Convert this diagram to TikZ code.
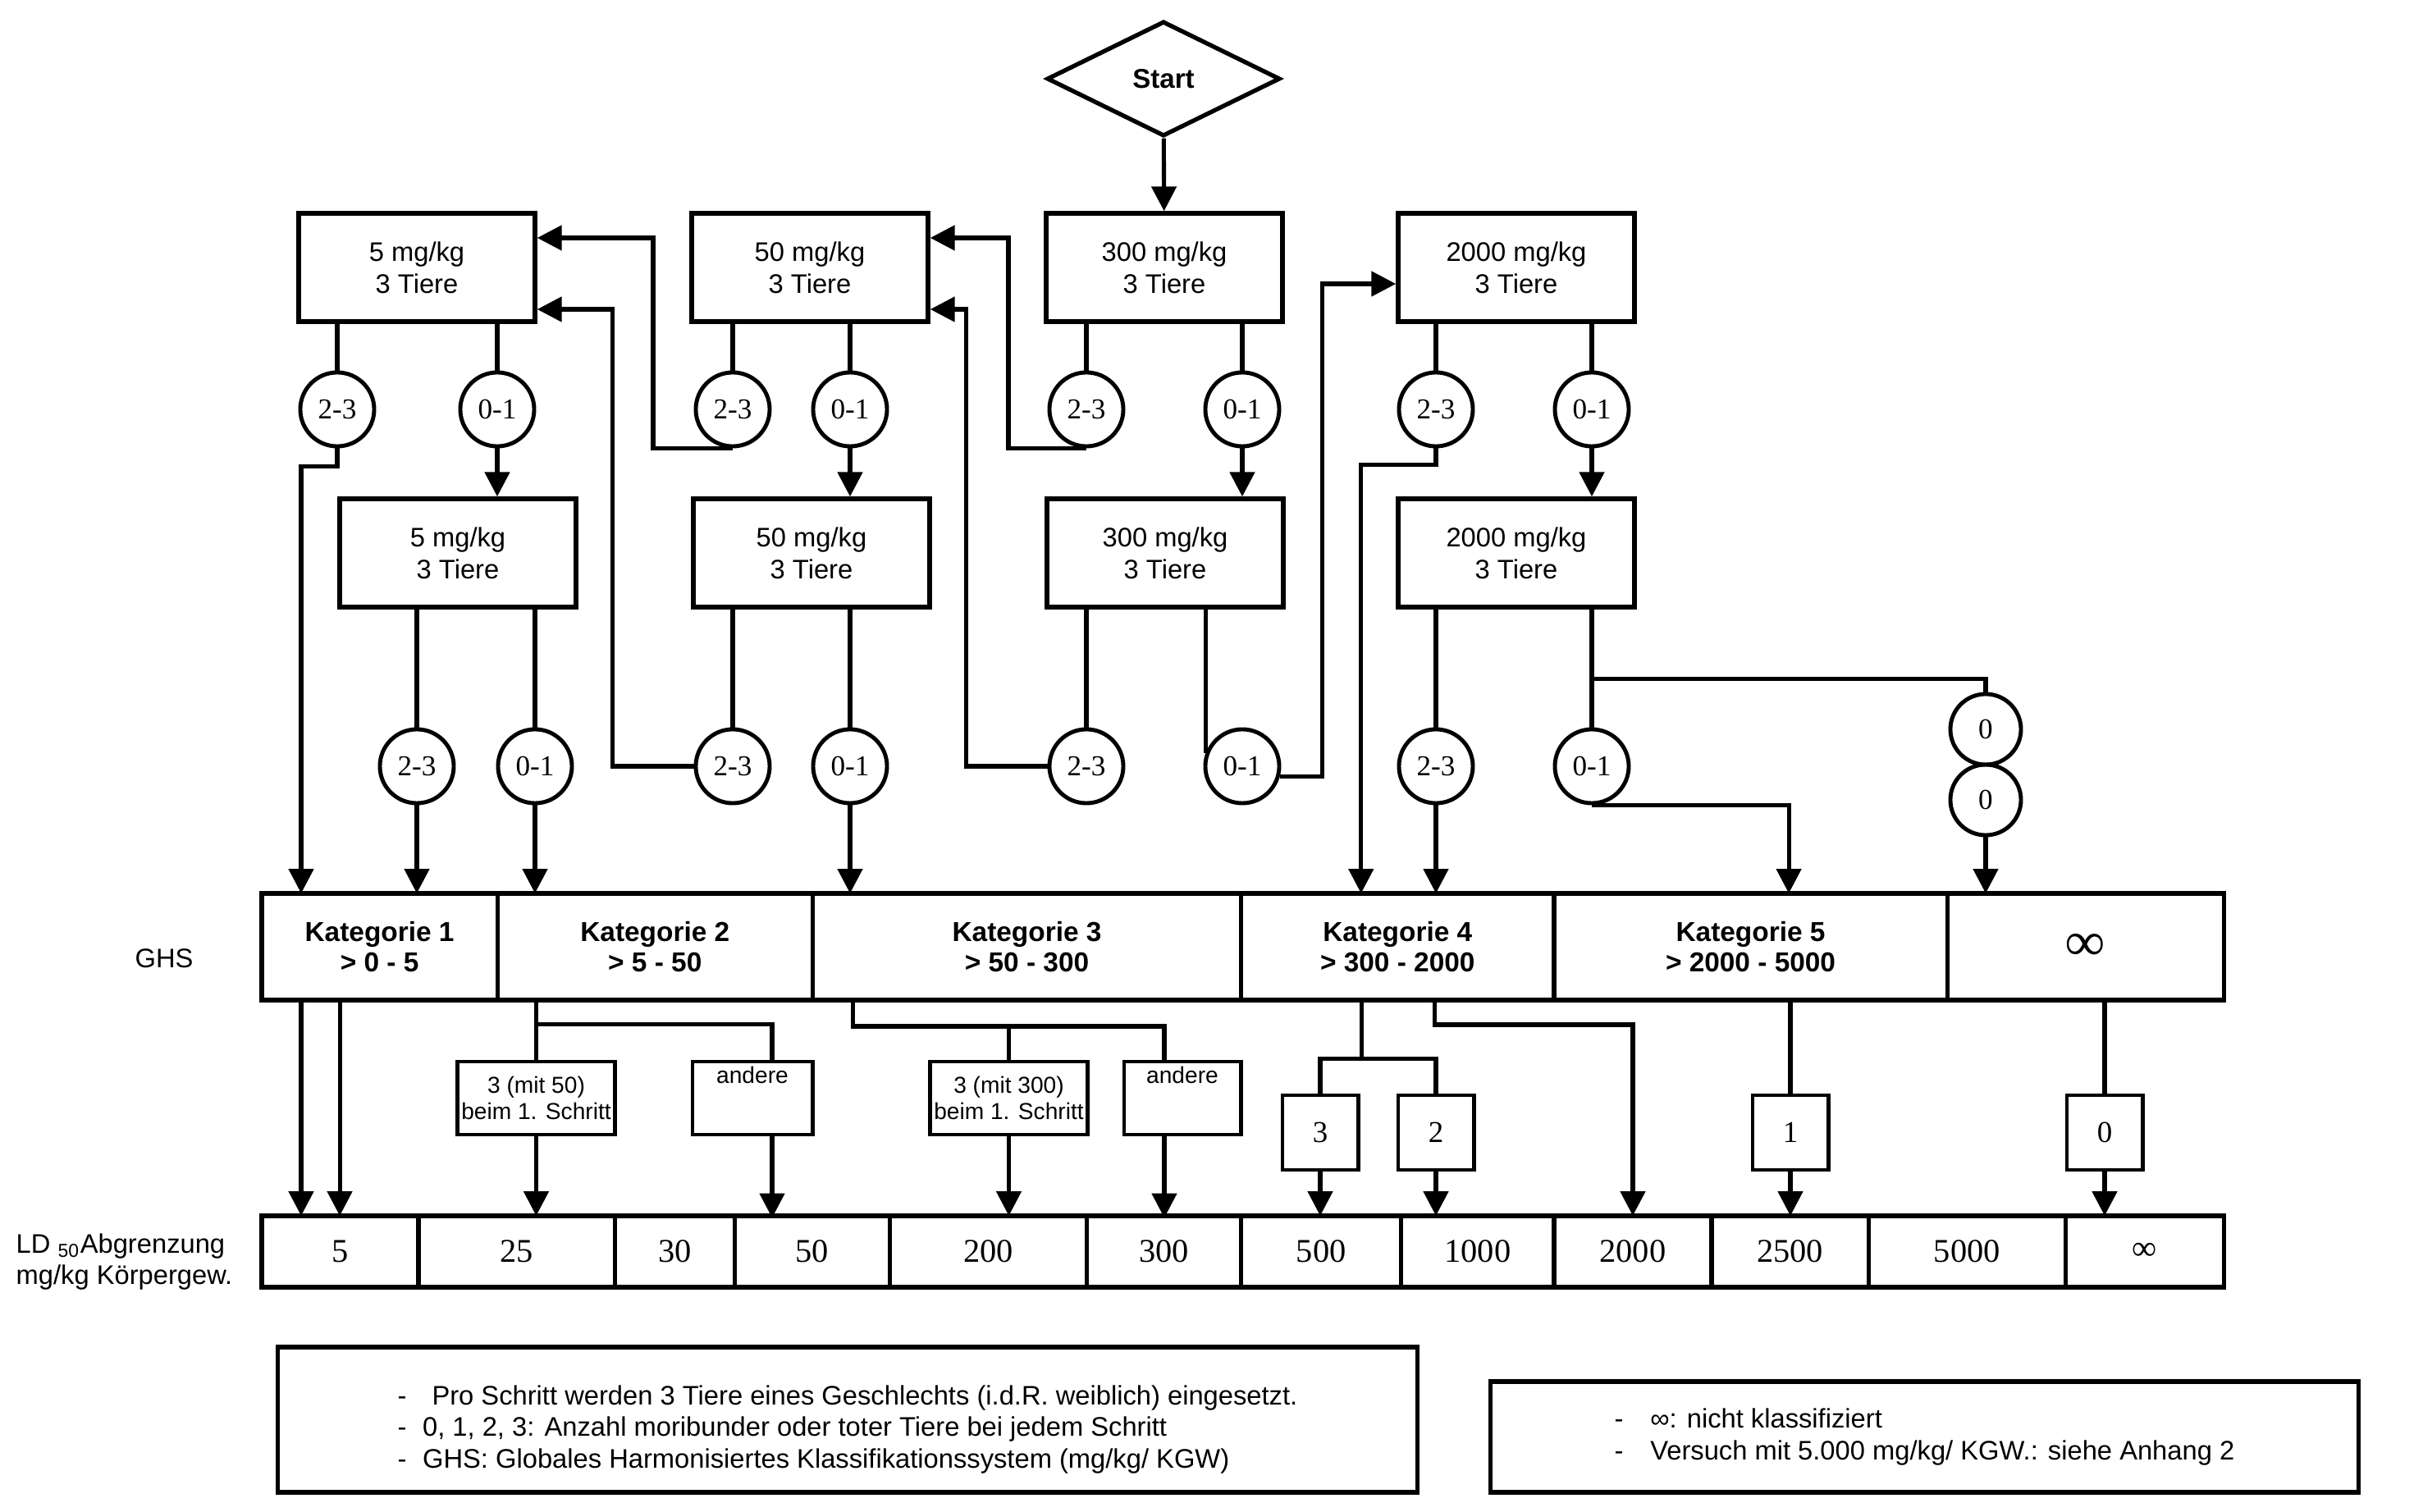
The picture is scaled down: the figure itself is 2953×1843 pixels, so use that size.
\documentclass[tikz,border=0pt]{standalone}
\usepackage{fontspec}
\setmainfont{Liberation Sans}
\newfontfamily\numfont{Liberation Serif}
\usetikzlibrary{shapes.geometric, arrows.meta, positioning}

\begin{document}
\begin{tikzpicture}[
    x=0.01cm, y=-0.01cm,
    font=\fontsize{9.3}{11}\selectfont,
    link/.style={line width=1.45pt},
    arrow/.style={link, -{Triangle[length=8.5pt, width=8.5pt]}},
    startbox/.style={diamond, draw, line width=1.5pt, minimum width=2.84cm, minimum height=1.40cm, inner sep=0pt, font=\fontsize{9.4}{11}\selectfont\bfseries},
    dosebox/.style={draw, line width=1.5pt, minimum width=2.88cm, minimum height=1.32cm, align=center},
    tally/.style={circle, draw, line width=1.4pt, minimum size=0.9cm, inner sep=0pt, font=\numfont\fontsize{10}{12}\selectfont},
    ghscell/.style={draw, line width=1.5pt, minimum height=1.30cm, outer sep=0pt, align=center, font=\fontsize{9.5}{10.5}\selectfont\bfseries},
    ldcell/.style={draw, line width=1.5pt, minimum height=0.87cm, outer sep=0pt, font=\numfont\fontsize{11.5}{13}\selectfont},
    stepbox/.style={draw, line width=1.4pt, minimum width=1.91cm, minimum height=0.89cm, inner sep=1pt, align=center, font=\fontsize{8}{9.3}\selectfont},
    otherbox/.style={stepbox, text height=0.2cm, text depth=0.55cm, inner ysep=0.06cm},
    numbox/.style={draw, line width=1.4pt, minimum width=0.92cm, minimum height=0.91cm, font=\numfont\fontsize{10.5}{12}\selectfont},
    notebox/.style={draw, line width=1.5pt, align=left}
  ]
  \useasboundingbox (0,0) rectangle (2953,1843);

  % Start
  \node[startbox] (start) at (1418,96) {Start};

  % 1. step doses
  \node[dosebox] (t5) at (508,326) {5 mg/kg\\3 Tiere};
  \node[dosebox] (t50) at (987,326) {50 mg/kg\\3 Tiere};
  \node[dosebox] (t300) at (1419,326) {300 mg/kg\\3 Tiere};
  \node[dosebox] (t2000) at (1848,326) {2000 mg/kg\\3 Tiere};

  \node[tally] (t5a) at (411,499) {2-3};
  \node[tally] (t5b) at (606,499) {0-1};
  \node[tally] (t50a) at (893,499) {2-3};
  \node[tally] (t50b) at (1036,499) {0-1};
  \node[tally] (t300a) at (1324,499) {2-3};
  \node[tally] (t300b) at (1514,499) {0-1};
  \node[tally] (t2000a) at (1750,499) {2-3};
  \node[tally] (t2000b) at (1940,499) {0-1};

  % 2. step doses
  \node[dosebox] (b5) at (558,674) {5 mg/kg\\3 Tiere};
  \node[dosebox] (b50) at (989,674) {50 mg/kg\\3 Tiere};
  \node[dosebox] (b300) at (1420,674) {300 mg/kg\\3 Tiere};
  \node[dosebox] (b2000) at (1848,674) {2000 mg/kg\\3 Tiere};

  \node[tally] (b5a) at (508,934) {2-3};
  \node[tally] (b5b) at (652,934) {0-1};
  \node[tally] (b50a) at (893,934) {2-3};
  \node[tally] (b50b) at (1036,934) {0-1};
  \node[tally] (b300a) at (1324,934) {2-3};
  \node[tally] (b300b) at (1514,934) {0-1};
  \node[tally] (b2000a) at (1750,934) {2-3};
  \node[tally] (b2000b) at (1940,934) {0-1};
  \node[tally, minimum size=0.86cm] (zeroA) at (2420,889) {0};
  \node[tally, minimum size=0.86cm] (zeroB) at (2420,975) {0};

  % GHS row
  \node (ghs) at (200,1168) {GHS};
  \node[ghscell, minimum width=2.87cm, anchor=west] (k1) at (319,1154) {Kategorie 1\\> 0 - 5};
  \node[ghscell, minimum width=3.84cm, right=0pt of k1] (k2) {Kategorie 2\\> 5 - 50};
  \node[ghscell, minimum width=5.22cm, right=0pt of k2] (k3) {Kategorie 3\\> 50 - 300};
  \node[ghscell, minimum width=3.81cm, right=0pt of k3] (k4) {Kategorie 4\\> 300 - 2000};
  \node[ghscell, minimum width=4.79cm, right=0pt of k4] (k5) {Kategorie 5\\> 2000 - 5000};
  \node[ghscell, minimum width=3.37cm, right=0pt of k5] (kinf) {{\numfont\bfseries\fontsize{19}{19}\selectfont ∞}};

  % outcome boxes
  \node[stepbox] (m50) at (653.5,1338.5) {3 (mit 50)\\beim 1. Schritt};
  \node[otherbox, minimum width=1.46cm] (a50) at (917,1338.5) {andere};
  \node[stepbox] (m300) at (1229.5,1338.5) {3 (mit 300)\\beim 1. Schritt};
  \node[otherbox, minimum width=1.42cm] (a300) at (1441,1338.5) {andere};
  \node[numbox] (n3) at (1609,1380.5) {3};
  \node[numbox] (n2) at (1750,1380.5) {2};
  \node[numbox] (n1) at (2182,1380.5) {1};
  \node[numbox] (n0) at (2565,1380.5) {0};

  % LD50 row
  \node[anchor=west, align=left, inner sep=0pt] (ldlabel) at (19,1538) {LD \textsubscript{50}Abgrenzung\\mg/kg Körpergew.};
  \node[ldcell, minimum width=1.91cm, anchor=west] (l5) at (319,1525.5) {5};
  \node[ldcell, minimum width=2.39cm, right=0pt of l5] (l25) {25};
  \node[ldcell, minimum width=1.46cm, right=0pt of l25] (l30) {30};
  \node[ldcell, minimum width=1.89cm, right=0pt of l30] (l50) {50};
  \node[ldcell, minimum width=2.40cm, right=0pt of l50] (l200) {200};
  \node[ldcell, minimum width=1.88cm, right=0pt of l200] (l300) {300};
  \node[ldcell, minimum width=1.95cm, right=0pt of l300] (l500) {500};
  \node[ldcell, minimum width=1.86cm, right=0pt of l500] (l1000) {1000};
  \node[ldcell, minimum width=1.92cm, right=0pt of l1000] (l2000) {2000};
  \node[ldcell, minimum width=1.91cm, right=0pt of l2000] (l2500) {2500};
  \node[ldcell, minimum width=2.40cm, right=0pt of l2500] (l5000) {5000};
  \node[ldcell, minimum width=1.93cm, right=0pt of l5000] (linf) {{\fontsize{12}{12}\selectfont ∞}};

  % notes
  \node[notebox, minimum width=13.88cm, minimum height=1.77cm] (notesA) at (1033,1730.5) {};
  \node[align=left] (notesAtext) at ([yshift=-0.12cm]notesA.center) {-\hspace{0.95em}Pro Schritt werden 3 Tiere eines Geschlechts (i.d.R. weiblich) eingesetzt.\\-\hspace{0.6em}0, 1, 2, 3: Anzahl moribunder oder toter Tiere bei jedem Schritt\\-\hspace{0.6em}GHS: Globales Harmonisiertes Klassifikationssystem (mg/kg/ KGW)};
  \node[notebox, minimum width=10.57cm, minimum height=1.35cm] (notesB) at (2345.5,1751.5) {-\hspace{1em}∞: nicht klassifiziert\\-\hspace{1em}Versuch mit 5.000 mg/kg/ KGW.: siehe Anhang 2};

  % 1. step connectors
  \draw[arrow] (start) -- (t300);
  \draw[link] (t5a |- t5.south) -- (t5a);
  \draw[link] (t5b |- t5.south) -- (t5b);
  \draw[link] (t50a |- t50.south) -- (t50a);
  \draw[link] (t50b |- t50.south) -- (t50b);
  \draw[link] (t300a |- t300.south) -- (t300a);
  \draw[link] (t300b |- t300.south) -- (t300b);
  \draw[link] (t2000a |- t2000.south) -- (t2000a);
  \draw[link] (t2000b |- t2000.south) -- (t2000b);
  \draw[arrow] (t5b) -- (t5b |- b5.north);
  \draw[arrow] (t50b) -- (t50b |- b50.north);
  \draw[arrow] (t300b) -- (t300b |- b300.north);
  \draw[arrow] (t2000b) -- (t2000b |- b2000.north);
  \draw[arrow] (t50a.south) -- ++(-97,0) |- ([yshift=0.36cm]t5.east);
  \draw[arrow] (t300a.south) -- ++(-95,0) |- ([yshift=0.36cm]t50.east);
  \draw[arrow] (t5a.south) -- ++(0,22) -| ([xshift=0.48cm]k1.north west);
  \draw[arrow] (t2000a.south) -- ++(0,20) -| ([xshift=1.46cm]k4.north west);

  % 2. step connectors
  \draw[link] (b5a |- b5.south) -- (b5a);
  \draw[link] (b5b |- b5.south) -- (b5b);
  \draw[link] (b50a |- b50.south) -- (b50a);
  \draw[link] (b50b |- b50.south) -- (b50b);
  \draw[link] (b300a |- b300.south) -- (b300a);
  \draw[link] (b300b.160 |- b300.south) -- (b300b.160);
  \draw[link] (b2000a |- b2000.south) -- (b2000a);
  \draw[link] (b2000b |- b2000.south) -- (b2000b);
  \draw[arrow] (b5a) -- (b5a |- k1.north);
  \draw[arrow] (b5b) -- (b5b |- k2.north);
  \draw[arrow] (b50b) -- (b50b |- k3.north);
  \draw[arrow] (b2000a) -- (b2000a |- k4.north);
  \draw[arrow] (b2000b.south) -| ([xshift=2.86cm]k5.north west);
  \draw[arrow] (b50a.west) -- ++(-99,0) |- ([yshift=-0.51cm]t5.east);
  \draw[arrow] (b300a.west) -- ++(-99,0) |- ([yshift=-0.51cm]t50.east);
  \draw[arrow] (b300b.-15) -- ++(52,0) |- ([yshift=-0.2cm]t2000.west);
  \draw[link] (b2000.south -| b2000b) ++(0,85) -| (zeroA.north);
  \draw[arrow] (zeroB) -- (zeroB |- kinf.north);

  % GHS to LD50
  \draw[arrow] ([xshift=0.48cm]k1.south west) -- ([xshift=0.48cm]l5.north west);
  \draw[arrow] ([xshift=0.95cm]k1.south west) -- ([xshift=0.95cm]l5.north west);
  \draw[link] (m50.north |- k2.south) -- (m50.north);
  \draw[link] (m50.north) ++(0,-43) -| ([xshift=0.24cm]a50.north);
  \draw[link] ([xshift=0.49cm]k3.south west) -- ++(0,32) -| ([xshift=-0.22cm]a300.north);
  \draw[link] (m300.north) -- ++(0,-43);
  \draw[arrow] (m50) -- (m50 |- l25.north);
  \draw[arrow] ([xshift=0.24cm]a50.south) -- ++(0,99);
  \draw[arrow] (m300) -- (m300 |- l200.north);
  \draw[arrow] ([xshift=-0.22cm]a300.south) -- ++(0,99);
  \draw[link] ([xshift=1.47cm]k4.south west) -- ++(0,74);
  \draw[link] (n3.north) -- ++(0,-42) -| (n2.north);
  \draw[arrow] ([xshift=2.36cm]k4.south west) -- ++(0,30) -| (l2000.north);
  \draw[arrow] (n3) -- (n3 |- l500.north);
  \draw[arrow] (n2) -- (n2 |- l1000.north);
  \draw[link] (n1.north |- k5.south) -- (n1.north);
  \draw[arrow] (n1) -- (n1 |- l2500.north);
  \draw[link] (n0.north |- kinf.south) -- (n0.north);
  \draw[arrow] (n0) -- (n0 |- linf.north);

\end{tikzpicture}
\end{document}
